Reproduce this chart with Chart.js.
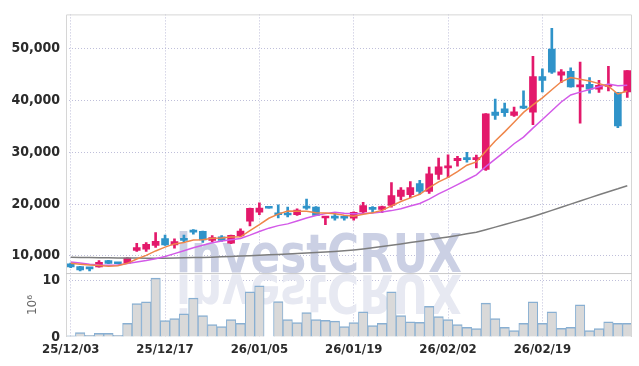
<!DOCTYPE html>
<html>
<head>
<meta charset="utf-8">
<script src="https://cdn.jsdelivr.net/npm/chart.js@4.4.1/dist/chart.umd.min.js"></script>
<style>
  html, body { margin: 0; padding: 0; background: #fff; }
</style>
</head>
<body>
<canvas id="myChart" width="639" height="366"></canvas>
<script>
// trading days shown on the x axis
const dates = [
  '25/12/03', '25/12/04', '25/12/05', '25/12/08', '25/12/09', '25/12/10', '25/12/11', '25/12/12', '25/12/15', '25/12/16',
  '25/12/17', '25/12/18', '25/12/19', '25/12/22', '25/12/23', '25/12/24', '25/12/26', '25/12/29', '25/12/30', '26/01/02',
  '26/01/05', '26/01/06', '26/01/07', '26/01/08', '26/01/09', '26/01/12', '26/01/13', '26/01/14', '26/01/15', '26/01/16',
  '26/01/19', '26/01/20', '26/01/21', '26/01/22', '26/01/23', '26/01/26', '26/01/27', '26/01/28', '26/01/29', '26/01/30',
  '26/02/02', '26/02/03', '26/02/04', '26/02/05', '26/02/06', '26/02/09', '26/02/10', '26/02/11', '26/02/12', '26/02/13',
  '26/02/19', '26/02/20', '26/02/23', '26/02/24', '26/02/25', '26/02/26', '26/02/27', '26/03/03', '26/03/04', '26/03/05'
];

const open = [
  8440, 7950, 7600, 7870, 9090, 8630, 8575, 11045, 11290, 12000,
  13320, 12130, 13190, 14780, 14720, 13000, 13700, 12430, 13840, 16690,
  18455, 19250, 18075, 18075, 17940, 19595, 19405, 17315, 17560, 17505,
  17260, 18510, 19270, 18970, 19730, 21495, 21820, 23965, 22445, 25730,
  27000, 28390, 28905, 28580, 26680, 37780, 38405, 37130, 38920, 37780,
  44620, 49940, 44920, 45625, 42640, 43155, 42205, 42720, 41565, 41690
];
const high = [
  8600, 8000, 7620, 9090, 9150, 8700, 9650, 12430, 12565, 14520,
  14030, 13270, 14030, 15100, 14800, 13900, 13900, 14000, 15200, 19250,
  20220, 19250, 19840, 19400, 19100, 20980, 19500, 17600, 18100, 17800,
  18500, 20355, 19500, 19600, 24155, 23200, 24345, 24600, 27140, 28905,
  29535, 29230, 29990, 29480, 37500, 40300, 39490, 38730, 41890, 48530,
  46140, 53930, 46005, 46330, 47455, 44430, 43915, 46630, 41580, 45815
];
const low = [
  7700, 7110, 7110, 7800, 8480, 8420, 8500, 10855, 10855, 11615,
  12000, 11480, 12755, 14200, 12620, 12755, 12800, 12350, 13700, 15795,
  17940, 19200, 17315, 17500, 17800, 18970, 17750, 16040, 16900, 16900,
  16900, 18265, 18350, 18350, 19405, 20800, 21170, 21930, 22065, 24780,
  25105, 27330, 28090, 27000, 26500, 36370, 36940, 36940, 38430, 35365,
  41690, 45245, 43480, 42600, 35630, 41445, 41580, 41880, 34740, 40630
];
const close = [
  7870, 7300, 7480, 8765, 8520, 8480, 9580, 11615, 12240, 12810,
  12130, 12755, 13000, 14600, 13080, 13515, 13000, 13950, 14790, 19160,
  19215, 19200, 17940, 17900, 18835, 19215, 17830, 17560, 17300, 17260,
  18400, 19730, 18970, 19540, 21630, 22690, 23205, 22445, 25865, 27195,
  27100, 28850, 28580, 28965, 37455, 37130, 37645, 37835, 38540, 44620,
  43915, 45490, 45565, 42640, 42965, 42205, 42965, 43100, 35120, 45815
];

// moving average lines
const ma5 = [
  8550, 8400, 8250, 8150, 8000, 8100, 8560, 9390, 10090, 10950,
  11680, 12310, 12590, 13060, 13110, 13390, 13440, 13630, 13670, 14880,
  16020, 17260, 18060, 18680, 18620, 18620, 18340, 18270, 18150, 17830,
  17670, 18050, 18330, 18780, 19650, 20510, 21210, 21900, 23170, 24280,
  25160, 26290, 27520, 28140, 30190, 32200, 33950, 35810, 37720, 39150,
  40510, 42080, 43630, 44450, 44120, 43770, 43270, 42780, 41270, 41840
];
const ma10 = [
  8800, 8600, 8400, 8250, 8200, 8250, 8500, 8800, 9100, 9460,
  9890, 10430, 10990, 11570, 12030, 12530, 12870, 13110, 13360, 14000,
  14710, 15350, 15840, 16180, 16750, 17320, 17800, 18160, 18420, 18230,
  18140, 18200, 18300, 18460, 18740, 19090, 19630, 20120, 20970, 21970,
  22840, 23750, 24710, 25650, 27230, 28680, 30120, 31660, 32930, 34670,
  36350, 38020, 39720, 41080, 41630, 42140, 42670, 43200, 42860, 42980
];
const ma60 = [
  9710, 9690, 9670, 9650, 9630, 9610, 9590, 9570, 9550, 9540,
  9560, 9590, 9620, 9660, 9700, 9750, 9810, 9880, 9960, 10040,
  10120, 10200, 10280, 10360, 10460, 10560, 10660, 10760, 10860, 10990,
  11150, 11340, 11560, 11800, 12050, 12300, 12560, 12830, 13100, 13380,
  13660, 13950, 14250, 14570, 15050, 15550, 16050, 16560, 17080, 17620,
  18200, 18790, 19390, 19990, 20600, 21200, 21800, 22400, 22950, 23550
];

// volume in millions of shares
const volume = [
  0.2, 0.8, 0.3, 0.65, 0.65, 0.3, 2.4, 5.9, 6.2, 10.4,
  2.9, 3.25, 4.1, 6.9, 3.8, 2.2, 1.85, 3.1, 2.4, 8.0,
  9.05, 0, 6.25, 3.1, 2.55, 4.3, 3.1, 2.95, 2.8, 1.85,
  2.55, 4.45, 2.0, 2.4, 8.0, 3.8, 2.7, 2.6, 5.4, 3.6,
  3.1, 2.2, 1.7, 1.5, 6.0, 3.25, 1.7, 1.15, 2.4, 6.2,
  2.4, 4.45, 1.55, 1.7, 5.7, 1.15, 1.5, 2.7, 2.4, 2.4
];

const priceTicks = [10000, 20000, 30000, 40000, 50000];
const volumeTicks = [0, 10];
const markText = 'investCRUX';

const UP = '#e3196b';
const DOWN = '#2f93c9';
const narrow = "'Liberation Sans Narrow', 'DejaVu Sans Condensed', 'Roboto', sans-serif";
const gridColor = 'rgba(170, 170, 205, 0.75)';

const candleColors = open.map((o, i) => close[i] >= o ? UP : DOWN);
const wicks = low.map((l, i) => [l, high[i]]);
const bodies = open.map((o, i) => [o, close[i]]);

const watermark = {
  id: 'watermark',
  beforeDatasetsDraw(chart) {
    const ctx = chart.ctx;
    const base = chart.scales.y.bottom;
    ctx.save();
    ctx.font = "bold 54px 'DejaVu Sans'";
    const w = ctx.measureText(markText).width;
    ctx.translate(176, base - 1);
    ctx.scale(286 / w, 1);
    ctx.fillStyle = '#cbd0e4';
    ctx.fillText(markText, 0, 0);
    ctx.scale(1, -1);
    ctx.translate(0, -3);
    ctx.fillStyle = '#e7e9f2';
    ctx.fillText(markText, 0, 0);
    ctx.restore();
  }
};

const frame = {
  id: 'frame',
  afterDatasetsDraw(chart) {
    const ctx = chart.ctx;
    const a = chart.chartArea;
    const sep = chart.scales.yv.top;
    ctx.save();
    ctx.lineWidth = 1;
    ctx.strokeStyle = '#d6d6d6';
    ctx.beginPath();
    ctx.moveTo(a.left + 0.5, a.bottom);
    ctx.lineTo(a.left + 0.5, a.top + 0.5);
    ctx.lineTo(a.right - 0.5, a.top + 0.5);
    ctx.lineTo(a.right - 0.5, a.bottom);
    ctx.stroke();
    ctx.strokeStyle = '#c8c8c8';
    ctx.beginPath();
    ctx.moveTo(a.left, sep + 0.5);
    ctx.lineTo(a.right, sep + 0.5);
    ctx.stroke();
    ctx.restore();
  }
};

new Chart(document.getElementById('myChart'), {
  type: 'bar',
  data: {
    labels: dates,
    datasets: [
      {
        type: 'line', data: ma5, yAxisID: 'y', order: 0,
        borderColor: '#ef864a', borderWidth: 1.5, pointRadius: 0, tension: 0
      },
      {
        type: 'line', data: ma10, yAxisID: 'y', order: 0,
        borderColor: '#d35ae8', borderWidth: 1.5, pointRadius: 0, tension: 0
      },
      {
        type: 'line', data: ma60, yAxisID: 'y', order: 0,
        borderColor: '#7d7d7d', borderWidth: 1.5, pointRadius: 0, tension: 0
      },
      {
        data: bodies, yAxisID: 'y', order: 1, grouped: false,
        backgroundColor: candleColors, barThickness: 7, minBarLength: 2
      },
      {
        data: wicks, yAxisID: 'y', order: 2, grouped: false,
        backgroundColor: candleColors, barThickness: 2
      },
      {
        data: volume, yAxisID: 'yv', order: 3, grouped: false,
        backgroundColor: '#d9d9d9', borderColor: '#88afd2',
        borderWidth: { top: 1.5, left: 1, right: 1, bottom: 0 },
        barPercentage: 1, categoryPercentage: 1
      }
    ]
  },
  options: {
    responsive: false,
    animation: false,
    layout: { padding: { top: 9, right: 7, left: 0, bottom: 0 } },
    plugins: {
      legend: { display: false },
      tooltip: { enabled: false }
    },
    scales: {
      x: {
        offset: true,
        afterBuildTicks: scale => {
          scale.ticks = scale.ticks.filter(t => t.value % 10 === 0);
        },
        afterFit: scale => { scale.height = 29; },
        ticks: {
          autoSkip: false, maxRotation: 0, padding: 5,
          color: '#2b2b2b',
          font: { family: narrow, size: 13, weight: 'bold' }
        },
        grid: { offset: false, drawTicks: false, color: gridColor, lineWidth: 1 },
        border: { display: false, dash: [1, 2] }
      },
      y: {
        position: 'left', stack: 'panels', stackWeight: 263, weight: 1,
        min: 6675, max: 56645,
        afterBuildTicks: scale => {
          scale.ticks = priceTicks.map(v => ({ value: v }));
        },
        afterFit: scale => { scale.width = 66; },
        ticks: {
          padding: 6, color: '#2b2b2b',
          font: { family: narrow, size: 14, weight: 'bold' },
          callback: v => v.toLocaleString('en-US')
        },
        grid: { drawTicks: false, color: gridColor },
        border: { display: false, dash: [1, 2] }
      },
      yv: {
        position: 'left', stack: 'panels', stackWeight: 65, weight: 0,
        min: 0, max: 11.3,
        afterBuildTicks: scale => {
          scale.ticks = volumeTicks.map(v => ({ value: v }));
        },
        afterFit: scale => { scale.width = 66; },
        title: {
          display: true, text: '10\u2076', color: '#666',
          font: { family: "'DejaVu Sans'", size: 12 },
          padding: { top: 26, bottom: 0 }
        },
        ticks: {
          padding: 6, color: '#2b2b2b',
          font: { family: narrow, size: 14, weight: 'bold' }
        },
        grid: {
          drawTicks: false,
          color: c => c.tick && c.tick.value === 0 ? 'rgba(0,0,0,0)' : gridColor
        },
        border: { display: false, dash: [1, 2] }
      }
    }
  },
  plugins: [watermark, frame]
});
</script>
</body>
</html>
